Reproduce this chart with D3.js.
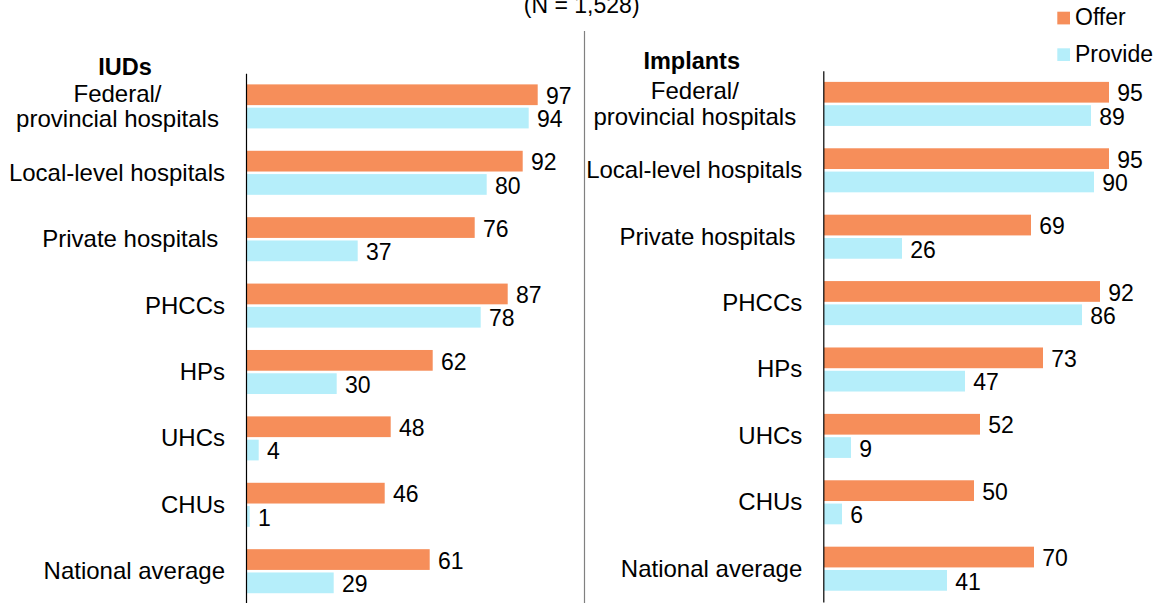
<!DOCTYPE html>
<html>
<head>
<meta charset="utf-8">
<script src="https://cdn.jsdelivr.net/npm/d3@7"></script>
<style>
  body { margin: 0; background: #fff; }
  svg { display: block; font-family: "Liberation Sans", Arial, sans-serif; }
</style>
</head>
<body>
<svg width="1161" height="603"></svg>
<script>
const categories = ['Federal/\nprovincial hospitals', 'Local-level hospitals', 'Private hospitals ', 'PHCCs', 'HPs', 'UHCs', 'CHUs', 'National average']
const series = ['Offer', 'Provide']
const iudOffer = [97, 92, 76, 87, 62, 48, 46, 61]
const iudProvide = [94, 80, 37, 78, 30, 4, 1, 29]
const implantOffer = [95, 95, 69, 92, 73, 52, 50, 70]
const implantProvide = [89, 90, 26, 86, 47, 9, 6, 41]
const title = '(N = 1,528)'

const colors = { Offer: '#F68E5A', Provide: '#B5EEFA' }

const svg = d3.select('svg')

const xScale = d3.scaleLinear().domain([0, 100]).range([0, 300])

// one panel = one method
const panels = [
  { name: 'IUDs', offer: iudOffer, provide: iudProvide, axisX: 246, yRange: [73.2, 604.4], titleX: 125, titleY: 75 },
  { name: 'Implants', offer: implantOffer, provide: implantProvide, axisX: 823.3, yRange: [70.7, 601.9], titleX: 691.7, titleY: 69 }
]

panels.forEach(p => {
  const yScale = d3.scaleBand().domain(categories).range(p.yRange)
  const sub = d3.scaleBand().domain(series).range([0, yScale.bandwidth()])
                .paddingInner(0.11).paddingOuter(0.48)

  const rows = categories.map((c, i) => ({ cat: c, Offer: p.offer[i], Provide: p.provide[i] }))

  const g = svg.append('g').attr('transform', `translate(${p.axisX},0)`)

  const groups = g.selectAll('.grp')
    .data(rows)
    .enter()
    .append('g')
    .attr('transform', d => `translate(0,${yScale(d.cat)})`)

  groups.selectAll('rect')
    .data(d => series.map(s => ({ key: s, value: d[s] })))
    .enter()
    .append('rect')
    .attr('x', 0.7)
    .attr('y', d => sub(d.key))
    .attr('width', d => xScale(d.value))
    .attr('height', sub.bandwidth())
    .attr('fill', d => colors[d.key])

  groups.selectAll('.val')
    .data(d => series.map(s => ({ key: s, value: d[s] })))
    .enter()
    .append('text')
    .attr('x', d => xScale(d.value) + 9)
    .attr('y', d => sub(d.key) + sub.bandwidth() / 2)
    .attr('dy', '0.4em')
    .attr('font-size', 23)
    .attr('fill', '#000')
    .text(d => d.value)

  const axis = g.append('g')
    .call(d3.axisLeft(yScale).tickSize(0).tickSizeOuter(0).tickPadding(21))
  axis.select('.domain').attr('stroke', '#000').attr('stroke-width', 1.2)
  axis.selectAll('.tick text')
    .attr('font-size', 24)
    .attr('font-family', '"Liberation Sans", Arial, sans-serif')
    .attr('fill', '#000')
    .attr('dy', '0.33em')
    .style('white-space', 'pre')
    .each(function (d) {
      const lines = d.split('\n')
      if (lines.length < 2) return
      const t = d3.select(this).text(null)
        .attr('text-anchor', 'middle').attr('x', -128.5).attr('dy', 0)
      t.append('tspan').attr('x', -128.5).attr('y', -4.7).text(lines[0])
      t.append('tspan').attr('x', -128.5).attr('y', 20.7).text(lines[1])
    })

  svg.append('text')
    .attr('x', p.titleX)
    .attr('y', p.titleY)
    .attr('text-anchor', 'middle')
    .attr('font-size', 23.5)
    .attr('font-weight', 'bold')
    .text(p.name)
})

svg.append('line')
  .attr('x1', 584.5).attr('x2', 584.5)
  .attr('y1', 31).attr('y2', 603)
  .attr('stroke', '#808080')
  .attr('stroke-width', 1.2)

// title sits partly above the top edge, as in the original
svg.append('text')
  .attr('x', 581.7)
  .attr('y', 12.8)
  .attr('text-anchor', 'middle')
  .attr('font-size', 23)
  .text(title)

const legend = svg.append('g').attr('transform', 'translate(1057.3,11.7)')
legend.selectAll('rect')
  .data(series)
  .enter()
  .append('rect')
  .attr('x', 0)
  .attr('y', (d, i) => i * 36.6)
  .attr('width', 12.7)
  .attr('height', 12.7)
  .attr('fill', d => colors[d])
legend.selectAll('text')
  .data(series)
  .enter()
  .append('text')
  .attr('x', 17.7)
  .attr('y', (d, i) => i * 36.6 + 13.5)
  .attr('font-size', 23)
  .text(d => d)
</script>
</body>
</html>
